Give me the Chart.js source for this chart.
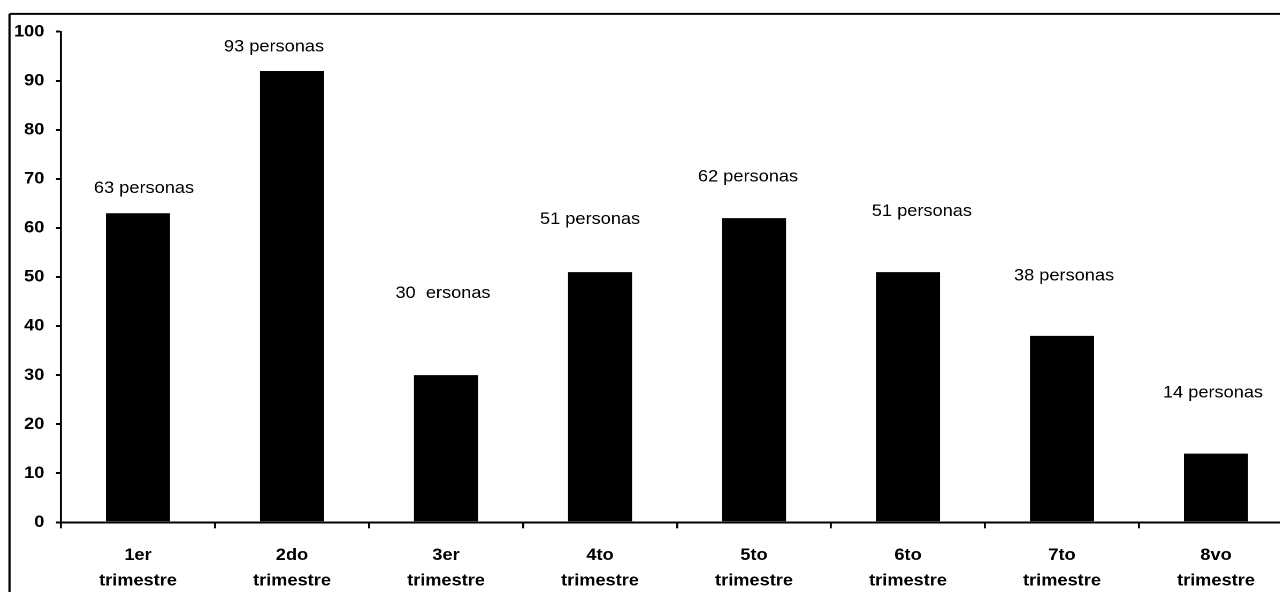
<!DOCTYPE html>
<html>
<head>
<meta charset="utf-8">
<script src="https://cdn.jsdelivr.net/npm/chart.js@4"></script>
<style>
  html, body { margin: 0; padding: 0; background: #fff; overflow: hidden; }
  /* the original picture is a bit stretched sideways, so is this one */
  #wrap { position: absolute; left: 0; top: 0; transform: scaleX(1.07); transform-origin: 0 0; }
  canvas { display: block; }
</style>
</head>
<body>
<div id="wrap"><canvas id="myChart" width="1215" height="592"></canvas></div>
<script>
// Chart data
const categories = [["1er", "trimestre"], ["2do", "trimestre"], ["3er", "trimestre"], ["4to", "trimestre"],
                    ["5to", "trimestre"], ["6to", "trimestre"], ["7to", "trimestre"], ["8vo", "trimestre"]];
const personas = [63, 92, 30, 51, 62, 51, 38, 14];
const yTicks = [0, 10, 20, 30, 40, 50, 60, 70, 80, 90, 100];

// text boxes placed by hand in the original, kept as they are (typo included)
const labelText = ["63 personas", "93 personas", "30  ersonas", "51 personas",
                   "62 personas", "51 personas", "38 personas", "14 personas"];
// height of each text box, in axis units
const labelAt = [68.1, 96.9, 46.7, 61.8, 70.4, 63.4, 50.2, 26.4];
// small sideways nudge of each text box (px)
const labelNudge = [5.6, -16.8, -2.8, -9.3, -5.6, 13, 1.9, -2.8];

const S = 1.07; // horizontal stretch
const FONT = "'Liberation Sans', Arial, sans-serif";

// frame around the whole chart
const framePlugin = {
    id: "frame",
    beforeDraw(chart) {
        const ctx = chart.ctx;
        ctx.save();
        ctx.fillStyle = "#fff";
        ctx.fillRect(0, 0, chart.width, chart.height);
        ctx.strokeStyle = "#000";
        ctx.lineWidth = 2;
        ctx.beginPath();
        ctx.moveTo(chart.width + 10, 13.9);
        ctx.lineTo(9.5 / S, 13.9);
        ctx.stroke();
        ctx.lineWidth = 2.2 / S;
        ctx.beginPath();
        ctx.moveTo(9.5 / S, 13.9);
        ctx.lineTo(9.5 / S, chart.height + 10);
        ctx.stroke();
        ctx.restore();
    }
};

// "xx personas" text boxes
const textPlugin = {
    id: "textBoxes",
    afterDatasetsDraw(chart) {
        const ctx = chart.ctx;
        const meta = chart.getDatasetMeta(0);
        const y = chart.scales.y;
        ctx.save();
        ctx.font = "17px " + FONT;
        ctx.fillStyle = "#000";
        ctx.textAlign = "center";
        ctx.textBaseline = "middle";
        meta.data.forEach((bar, i) => {
            ctx.fillText(labelText[i], bar.x + labelNudge[i], y.getPixelForValue(labelAt[i]));
        });
        ctx.restore();
    }
};

const ctx = document.getElementById("myChart").getContext("2d");
const chart = new Chart(ctx, {
    type: "bar",
    data: {
        labels: categories,
        datasets: [{
            data: personas,
            backgroundColor: "#000",
            borderWidth: 0,
            barPercentage: 0.416,
            categoryPercentage: 1
        }]
    },
    options: {
        responsive: false,
        animation: false,
        devicePixelRatio: 2,
        layout: { padding: { top: 31.7, right: 6.6, left: 0, bottom: 0 } },
        plugins: { legend: { display: false }, tooltip: { enabled: false } },
        scales: {
            x: {
                grid: { drawOnChartArea: false, offset: true, color: "#000", lineWidth: 2 / S, tickLength: 6 },
                border: { color: "#000", width: 2 },
                ticks: {
                    color: "#000",
                    padding: 14,
                    maxRotation: 0,
                    font: { family: FONT, size: 17, weight: "bold", lineHeight: 1.51 }
                },
                afterFit(scale) { scale.height = 592 - 522.3; }
            },
            y: {
                min: 0,
                max: 100,
                afterBuildTicks(scale) { scale.ticks = yTicks.map(v => ({ value: v })); },
                grid: { drawOnChartArea: false, color: "#000", lineWidth: 2, tickLength: 5 / S },
                border: { color: "#000", width: 2 / S },
                ticks: {
                    color: "#000",
                    padding: 10.9,
                    font: { family: FONT, size: 17, weight: "bold" }
                },
                afterFit(scale) { scale.width = 61 / S; }
            }
        }
    },
    plugins: [framePlugin, textPlugin]
});
</script>
</body>
</html>
